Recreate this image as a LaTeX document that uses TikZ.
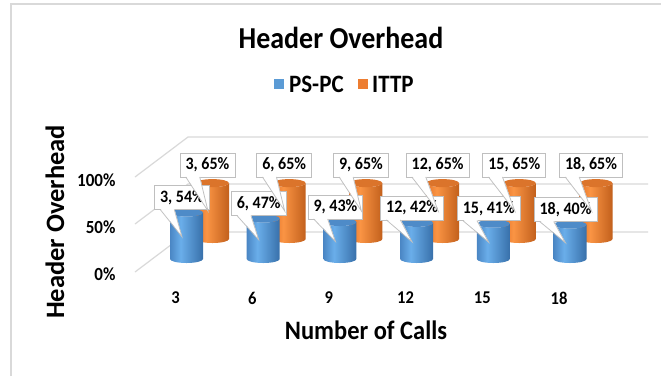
\documentclass[tikz,border=0pt]{standalone}
\usepackage{fontspec}
\setmainfont{Carlito}[FakeStretch=0.92]
\newfontfamily\uprightlabel{Carlito}
\usetikzlibrary{calc}

\definecolor{framegray}{HTML}{D9D9D9}
\definecolor{gridgray}{HTML}{D9D9D9}
\definecolor{boxgray}{HTML}{BFBFBF}
\definecolor{blueA}{HTML}{4A86C4}
\definecolor{blueB}{HTML}{6AAEEA}
\definecolor{blueC}{HTML}{3870AA}
\definecolor{blueTop}{HTML}{4E8BC8}
\definecolor{orngA}{HTML}{E3742A}
\definecolor{orngB}{HTML}{FA9444}
\definecolor{orngC}{HTML}{C2601C}
\definecolor{orngTop}{HTML}{DB742B}
\definecolor{legBlue}{HTML}{5B9BD5}
\definecolor{legOrng}{HTML}{ED7D31}

% cylinder body shadings: dark edges, highlight left of centre
\pgfdeclarehorizontalshading{cylblue}{100bp}{color(0bp)=(blueA); color(25bp)=(blueA); color(41bp)=(blueB); color(75bp)=(blueC); color(100bp)=(blueC)}
\pgfdeclarehorizontalshading{cylorng}{100bp}{color(0bp)=(orngA); color(25bp)=(orngA); color(41bp)=(orngB); color(75bp)=(orngC); color(100bp)=(orngC)}

% #1 centre x, #2 base y, #3 top y, #4 shading, #5 top colour
\newcommand\drawcyl[5]{%
  \shade[shading=#4] (#1-16.5,#3) -- (#1-16.5,#2)
     arc[start angle=180,end angle=360,x radius=16.5pt,y radius=4pt]
     -- (#1+16.5,#3)
     arc[start angle=0,end angle=-180,x radius=16.5pt,y radius=4pt] -- cycle;
  \fill[#5] (#1,#3) ellipse[x radius=16.5pt,y radius=4pt];
}

% #1 node name, #2 box centre, #3 pointer tip, #4 text
\newcommand\callout[4]{%
  \node[lbl] (#1) at (#2) {#4};
  \fill[white] ($(#1.south west)+(6,-1.6)$) -- (#3) -- ($(#1.south west)+(20,-1.6)$) -- cycle;
  \draw[lblline] ($(#1.south west)+(6,-0.4)$) -- (#3) -- ($(#1.south west)+(20,-0.4)$);
}

\tikzset{
  grid/.style={gridgray, line width=1.2pt},
  lbl/.style={draw=boxgray, fill=white, line width=0.75pt, inner xsep=5.5pt,
    inner ysep=0pt, minimum height=24pt, font=\bfseries\fontsize{17.4}{17.4}\selectfont},
  lblline/.style={boxgray, line width=0.75pt},
  ticklbl/.style={font=\bfseries\fontsize{18.5}{18.5}\selectfont},
  catlbl/.style={font=\bfseries\fontsize{18}{18}\selectfont},
  axtitle/.style={font=\bfseries\fontsize{26.6}{26.6}\selectfont},
  legtext/.style={font=\bfseries\fontsize{25}{25}\selectfont, anchor=west, inner sep=0pt},
}

\begin{document}
\begin{tikzpicture}[x=1pt, y=-1pt]
\useasboundingbox (0,0) rectangle (661,376);
\fill[white] (0,0) rectangle (661,376);

% chart frame
\draw[framegray, line width=1.2pt] (11,376) -- (11,4) -- (661,4);

% title and legend
\node[font=\bfseries\fontsize{30.4}{30.4}\selectfont] (title) at (341,38) {Header Overhead};
\fill[legBlue] (274,79) rectangle (284,89);
\node[legtext] (legA) at (289,84.5) {PS-PC};
\fill[legOrng] (358,79) rectangle (368,89);
\node[legtext] (legB) at (372,84.5) {ITTP};

% side wall and back wall gridlines (0 %, 50 %, 100 %)
\foreach \fy/\by in {272/232, 224/184, 177/137} {
  \draw[grid] (135,\fy) -- (188,\by) -- (648,\by);
}

% value axis
\node[ticklbl, anchor=east] (t100) at (119,180) {100\%};
\node[ticklbl, anchor=east] (t50)  at (119,227) {50\%};
\node[ticklbl, anchor=east] (t0)   at (119,274) {0\%};
\node[font=\uprightlabel\bfseries\fontsize{26.5}{26.5}\selectfont, rotate=90] (ytitle) at (55,222) {Header Overhead};

% cylinders: ITTP row behind, PS-PC row in front
\foreach \i in {0,...,5} {
  \pgfmathsetmacro\ox{212.5+76.7*\i}
  \drawcyl{\ox}{239}{183.1}{cylorng}{orngTop}
}
\foreach \i/\v in {0/54,1/47,2/43,3/42,4/41,5/40} {
  \pgfmathsetmacro\bx{186.5+76.7*\i}
  \pgfmathsetmacro\bt{259-0.86*\v}
  \drawcyl{\bx}{259}{\bt}{cylblue}{blueTop}
}

% category axis
\foreach \c [count=\k from 0] in {3,6,9,12,15,18} {
  \node[catlbl] (cat\k) at (175.5+76.7*\k,298) {\c};
}
\node[axtitle] (xtitle) at (366,330) {Number of Calls};

% data labels, PS-PC
\foreach \i/\c/\v in {0/3/54,1/6/47,2/9/43,3/12/42,4/15/41,5/18/40} {
  \pgfmathsetmacro\bx{186.5+76.7*\i}
  \pgfmathsetmacro\bt{259-0.86*\v}
  \pgfmathsetmacro\tipy{(259+\bt)/2+1}
  \callout{pl\i}{\bx-4.5,\bt-15}{\bx-4.5,\tipy}{\c, \v\%}
}
% data labels, ITTP
\foreach \i/\c in {0/3,1/6,2/9,3/12,4/15,5/18} {
  \pgfmathsetmacro\ox{212.5+76.7*\i}
  \callout{il\i}{\ox-5,165}{\ox-4.5,211}{\c, 65\%}
}
\end{tikzpicture}
\end{document}
